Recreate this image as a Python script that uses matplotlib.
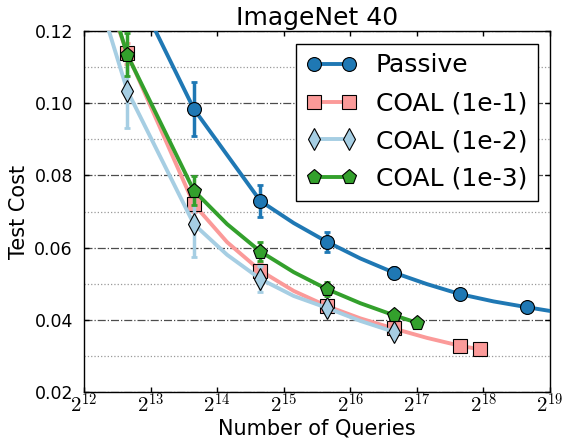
import numpy as np
import matplotlib
matplotlib.use("Agg")
import matplotlib.pyplot as plt
from matplotlib.ticker import MultipleLocator, FormatStrFormatter, FixedLocator

plt.rcParams['mathtext.fontset'] = 'cm'
plt.rcParams['font.family'] = 'DejaVu Sans'

# exponents of 2 for x
passive_x = [12.65, 13.65, 14.65, 15.15, 15.65, 16.15, 16.65, 17.15, 17.65, 18.15, 18.65, 19.15, 19.65]
passive_y = [0.136, 0.0984, 0.0729, 0.0668, 0.0616, 0.0570, 0.0531, 0.0499, 0.0471, 0.0451, 0.0435, 0.0420, 0.0410]
passive_mk = [0, 1, 2, 4, 6, 8, 10]
passive_err = [0.0, 0.0076, 0.0045, 0.0028, 0.0015, 0.0010, 0.0008]

coal1_x = [12.15, 12.65, 13.65, 14.15, 14.65, 15.15, 15.65, 16.15, 16.65, 17.15, 17.65, 17.95]
coal1_y = [0.140, 0.1138, 0.0720, 0.0615, 0.0536, 0.0480, 0.0438, 0.0404, 0.0376, 0.0350, 0.0328, 0.0318]
coal1_mk = [1, 2, 4, 6, 8, 10, 11]
coal1_err = [0.003, 0.002, 0.002, 0.001, 0.001, 0.0005, 0.0005]

coal2_x = [12.15, 12.65, 13.65, 14.15, 14.65, 15.15, 15.65, 16.15, 16.65]
coal2_y = [0.1335, 0.1035, 0.0665, 0.0580, 0.0513, 0.0466, 0.0433, 0.0397, 0.0367]
coal2_mk = [1, 2, 4, 6, 8]
coal2_err = [0.0105, 0.009, 0.0035, 0.0015, 0.001]

coal3_x = [12.15, 12.65, 13.65, 14.15, 14.65, 15.15, 15.65, 16.15, 16.65, 17.0]
coal3_y = [0.1434, 0.1134, 0.0758, 0.0665, 0.0589, 0.0532, 0.0485, 0.0446, 0.0413, 0.0392]
coal3_mk = [1, 2, 4, 6, 8, 9]
coal3_err = [0.006, 0.004, 0.0027, 0.002, 0.001, 0.0005]

series = [
    ("Passive", passive_x, passive_y, passive_mk, passive_err, "#1f78b4", "o", 10),
    ("COAL (1e-1)", coal1_x, coal1_y, coal1_mk, coal1_err, "#fb9a99", "s", 10),
    ("COAL (1e-2)", coal2_x, coal2_y, coal2_mk, coal2_err, "#a6cee3", "d", 11),
    ("COAL (1e-3)", coal3_x, coal3_y, coal3_mk, coal3_err, "#33a02c", "p", 11),
]

fig = plt.figure(figsize=(5.63, 4.41), dpi=100)
ax = fig.add_axes([84/563, 1-392/441, 466/563, 361/441])

handles = []
for i, (lab, xs, ys, mk, err, col, m, ms) in enumerate(series):
    xs = 2.0 ** np.array(xs)
    ys = np.array(ys)
    ax.errorbar(xs[mk], ys[mk], yerr=err, fmt='none', ecolor=col,
                elinewidth=2.5, capsize=2.5, capthick=2, zorder=3 + i)
    ln, = ax.plot(xs, ys, color=col, lw=2.8, marker=m, markevery=mk,
                  ms=ms, mfc=col, mec='black', mew=0.8, label=lab, zorder=3 + i)
    handles.append(ln)

ax.set_xscale('log', base=2)
ax.set_xlim(2**12, 2**19)
ax.set_ylim(0.02, 0.12)
ax.xaxis.set_major_locator(FixedLocator([2.0**k for k in range(12, 20)]))
ax.xaxis.set_minor_locator(FixedLocator([]))
ax.set_xticklabels([r'$2^{%d}$' % k for k in range(12, 20)])
ax.yaxis.set_major_locator(MultipleLocator(0.02))
ax.yaxis.set_minor_locator(MultipleLocator(0.01))
ax.yaxis.set_major_formatter(FormatStrFormatter('%.2f'))

ax.grid(True, axis='y', which='major', color='black', ls='-.', lw=0.9, alpha=0.7)
ax.grid(True, axis='y', which='minor', color='#999999', ls=':', lw=0.9)

ax.tick_params(which='both', direction='in', top=True, right=True)
ax.tick_params(which='major', length=3.5, width=1)
ax.tick_params(which='minor', length=0)
ax.tick_params(axis='y', labelsize=12.5, pad=8)
ax.tick_params(axis='x', labelsize=15, pad=0.5)
for s in ax.spines.values():
    s.set_linewidth(1)

ax.set_title("ImageNet 40", fontsize=18, pad=4)
ax.set_xlabel("Number of Queries", fontsize=15, labelpad=1)
ax.set_ylabel("Test Cost", fontsize=15)

leg = ax.legend(handles=handles, loc='upper right', fontsize=18, numpoints=2,
                handlelength=2.0, handletextpad=0.8, labelspacing=0.55,
                fancybox=False, framealpha=1)
leg.get_frame().set_edgecolor('black')
leg.get_frame().set_linewidth(1)

fig.savefig("out.png", dpi=100)
